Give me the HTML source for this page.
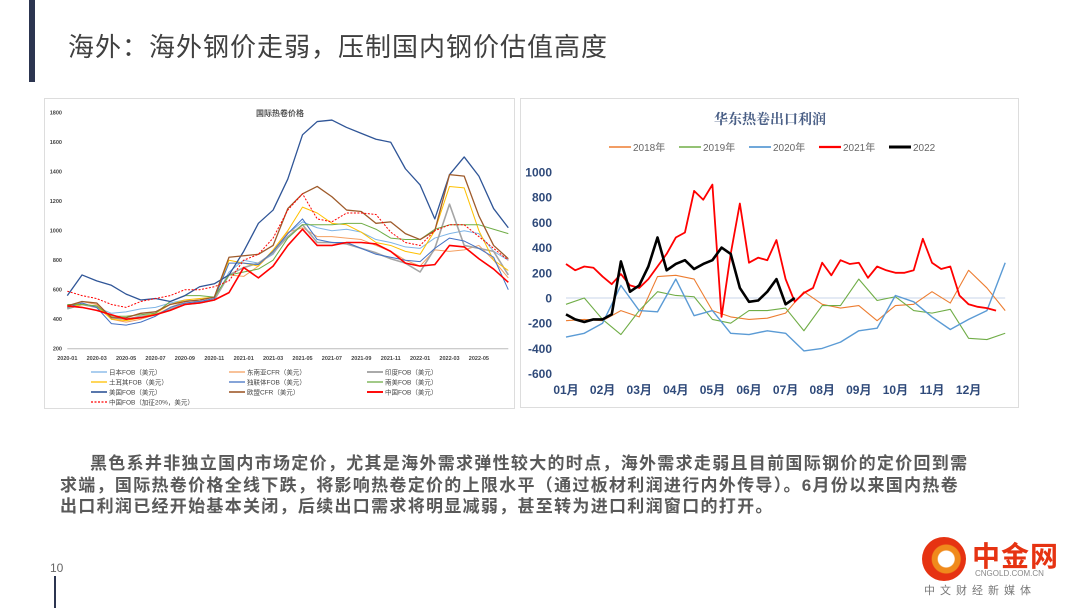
<!DOCTYPE html>
<html><head><meta charset="utf-8"><style>
body{margin:0;width:1080px;height:608px;background:#fff;position:relative;overflow:hidden;font-family:"Liberation Sans","Noto Sans CJK SC",sans-serif}
.abs{position:absolute}
</style></head><body>
<div class="abs" style="left:29px;top:0;width:6px;height:82px;background:#2c3550"></div>
<div class="abs" style="left:68px;top:27px;font-size:26px;letter-spacing:1px;color:#404040;white-space:nowrap">海外：海外钢价走弱，压制国内钢价估值高度</div>
<div class="abs" style="left:44px;top:98px;width:469px;height:309px;border:1px solid #ddd"></div>
<div class="abs" style="left:520px;top:98px;width:497px;height:308px;border:1px solid #ddd"></div>
<svg id="chart" class="abs" style="left:0;top:0" width="1080" height="608"></svg>
<div class="abs" style="left:60px;top:453px;width:960px;font-size:17px;letter-spacing:1.3px;font-weight:bold;color:#595959;line-height:21.5px">
<div style="text-indent:30px;white-space:nowrap">黑色系并非独立国内市场定价，尤其是海外需求弹性较大的时点，海外需求走弱且目前国际钢价的定价回到需</div>
<div style="white-space:nowrap">求端，国际热卷价格全线下跌，将影响热卷定价的上限水平（通过板材利润进行内外传导）。6月份以来国内热卷</div>
<div style="white-space:nowrap">出口利润已经开始基本关闭，后续出口需求将明显减弱，甚至转为进口利润窗口的打开。</div>
</div>
<div class="abs" style="left:50px;top:561px;font-size:12px;color:#666">10</div>
<div class="abs" style="left:54px;top:576px;width:2px;height:32px;background:#2c3550"></div>
<div class="abs" style="left:922px;top:537px;width:44px;height:44px;border-radius:50%;background:radial-gradient(circle at 55% 50%,#fff 0 8px,#f08a1c 9px 14px,#e63312 15px)"></div>
<div class="abs" style="left:972px;top:535px;font-size:28px;font-weight:bold;color:#e63312;letter-spacing:1px">中金网</div>
<div class="abs" style="left:975px;top:569px;font-size:8px;color:#888">CNGOLD.COM.CN</div>
<div class="abs" style="left:924px;top:582px;font-size:11px;color:#777;letter-spacing:5px">中文财经新媒体</div>
<script>
// ---------- left chart data (monthly 2020-01 .. 2022-07) ----------
const lMonths=["2020-01","2020-03","2020-05","2020-07","2020-09","2020-11","2021-01","2021-03","2021-05","2021-07","2021-09","2021-11","2022-01","2022-03","2022-05"];
const lYTicks=[200,400,600,800,1000,1200,1400,1600,1800];
const jp=[470,500,480,440,450,470,480,510,530,520,530,720,800,780,840,980,1060,1020,1000,1010,990,940,920,890,880,950,980,1000,980,860,800];
const sea=[480,520,500,400,380,400,430,480,520,530,550,700,690,760,860,990,1020,960,960,950,940,900,860,800,760,870,860,870,900,800,680];
const ind=[470,500,480,410,400,420,430,470,500,510,530,700,750,780,850,960,1040,920,920,910,880,850,810,780,720,880,1180,900,880,860,700];
const tur=[480,500,490,400,390,410,440,500,530,540,550,800,780,760,870,1000,1160,1120,1050,1040,990,920,900,860,840,1000,1300,1290,1000,800,730];
const cis=[480,510,480,370,360,380,420,480,510,520,540,780,780,770,860,980,1080,940,920,920,880,840,820,800,790,880,950,930,880,820,600];
const sam=[500,500,490,420,420,430,440,520,560,560,550,700,720,740,800,950,1040,1040,1040,1050,1050,1010,950,940,940,1010,1040,1040,1040,1010,980];
const usa=[560,700,660,630,570,530,540,520,560,620,640,700,860,1050,1140,1350,1650,1740,1750,1700,1660,1620,1600,1420,1310,1080,1380,1500,1370,1150,1020];
const eu=[490,520,510,410,410,440,450,500,520,530,550,820,830,840,900,1150,1250,1300,1230,1140,1130,1050,1060,980,940,1000,1380,1370,1100,900,810];
const chn=[490,480,460,430,400,410,430,460,500,510,530,580,750,680,760,900,1010,900,900,920,920,910,860,780,760,770,900,890,810,740,650];
const chn20=[590,560,540,500,480,520,540,560,600,600,620,660,800,840,950,1140,1250,1080,1060,1120,1120,1110,990,920,900,1000,1040,1040,960,880,800];
const lSeries=[
 {n:"日本FOB（美元）",d:jp,c:"#7eb4e6",w:1},
 {n:"东南亚CFR（美元）",d:sea,c:"#f4a062",w:1},
 {n:"印度FOB（美元）",d:ind,c:"#a5a5a5",w:1.6},
 {n:"土耳其FOB（美元）",d:tur,c:"#ffc000",w:1},
 {n:"独联体FOB（美元）",d:cis,c:"#4472c4",w:1},
 {n:"南美FOB（美元）",d:sam,c:"#70ad47",w:1},
 {n:"美国FOB（美元）",d:usa,c:"#2f5597",w:1.3},
 {n:"欧盟CFR（美元）",d:eu,c:"#9e5a2a",w:1.3},
 {n:"中国FOB（美元）",d:chn,c:"#ff0000",w:1.6},
 {n:"中国FOB（加征20%，美元）",d:chn20,c:"#ff0000",w:1,dash:"2,1.5"}];
// ---------- right chart data ----------
const rMonths=["01月","02月","03月","04月","05月","06月","07月","08月","09月","10月","11月","12月"];
const rYTicks=[-600,-400,-200,0,200,400,600,800,1000];
const y2018=[-180,-170,-180,-100,-150,170,180,150,-100,-150,-170,-160,-120,50,-50,-80,-60,-180,-60,-50,50,-40,220,80,-100];
const y2019=[-50,0,-170,-290,-100,50,20,10,-170,-200,-100,-100,-80,-260,-60,-60,150,-20,10,-100,-120,-90,-320,-330,-280];
const y2020=[-310,-280,-200,100,-100,-110,150,-140,-100,-280,-290,-260,-280,-420,-400,-350,-260,-240,20,-30,-150,-250,-170,-100,280];
const y2021=[270,220,250,240,170,110,190,100,80,150,250,350,480,520,850,780,900,-150,350,750,280,320,300,460,150,-30,40,80,280,180,300,270,280,160,250,220,200,200,220,470,280,230,250,20,-50,-70,-80,-100];
const y2022=[-130,-170,-190,-170,-170,-130,290,50,100,250,480,220,270,300,230,270,300,400,350,80,-30,-20,50,150,-50,0];
const rSeries=[
 {n:"2018年",d:y2018,step:0.5,c:"#ed7d31",w:1.1},
 {n:"2019年",d:y2019,step:0.5,c:"#70ad47",w:1.1},
 {n:"2020年",d:y2020,step:0.5,c:"#5b9bd5",w:1.4},
 {n:"2021年",d:y2021,step:0.25,c:"#ff0000",w:1.8},
 {n:"2022",d:y2022,step:0.25,c:"#000000",w:2.6}];

const svg=document.getElementById('chart');
const NS="http://www.w3.org/2000/svg";
function mk(tag,attrs,txt){const e=document.createElementNS(NS,tag);for(const k in attrs)e.setAttribute(k,attrs[k]);if(txt!==undefined)e.textContent=txt;svg.appendChild(e);return e;}
// left axes
const lx=i=>67.3+i*14.7, ly=v=>348.7-(v-200)*29.5/200;
let t=mk('text',{x:280,y:116,'font-size':8,'font-weight':'bold','text-anchor':'middle',fill:'#555'},"国际热卷价格");


lYTicks.forEach(v=>{const e=mk('text',{x:62,y:ly(v)+2,'font-size':5.5,'text-anchor':'end',fill:'#444','font-weight':'bold'},v);

});
let ax=mk('line',{x1:lx(0),x2:lx(30),y1:ly(200),y2:ly(200),stroke:'#bbb','stroke-width':1});


lMonths.forEach((m,k)=>{const e=mk('text',{x:lx(k*2),y:360,'font-size':5.5,'text-anchor':'middle',fill:'#444','font-weight':'bold'},m);

});
lSeries.forEach((s,k)=>{
 const p=mk('polyline',{points:s.d.map((v,i)=>lx(i)+','+ly(v)).join(' '),fill:'none',stroke:s.c,'stroke-width':s.w,'stroke-dasharray':s.dash||'none','stroke-linejoin':'round'});
 
 
 const col=k%3,row=Math.floor(k/3),x=91+col*138,y=372+row*10;
 const l=mk('line',{x1:x,x2:x+16,y1:y,y2:y,stroke:s.c,'stroke-width':s.w+0.3,'stroke-dasharray':s.dash||'none'});
 
 
 const tt=mk('text',{x:x+18,y:y+2.5,'font-size':6.5,fill:'#444'},s.n);
 
 
});
// right axes
const rx=m=>566+m*36.6, ry=v=>298-v*25.2/200;
t=mk('text',{x:770,y:124,'font-size':14,'font-weight':'bold','text-anchor':'middle',fill:'#4a5f86','font-family':'"Noto Serif CJK SC",serif'},"华东热卷出口利润");


let zl=mk('line',{x1:rx(0),x2:rx(12),y1:ry(0),y2:ry(0),stroke:'#c9d6e8','stroke-width':1});


rYTicks.forEach(v=>{const e=mk('text',{x:552,y:ry(v)+4.5,'font-size':12,'font-weight':'bold','text-anchor':'end',fill:'#2f4a7a'},v);

});
rMonths.forEach((m,i)=>{const e=mk('text',{x:rx(i),y:394,'font-size':12,'font-weight':'bold','text-anchor':'middle',fill:'#2f4a7a'},m);

});
const legX=[609,679,749,819,889];
rSeries.forEach((s,k)=>{
 const p=mk('polyline',{points:s.d.map((v,i)=>rx(i*s.step)+','+ry(v)).join(' '),fill:'none',stroke:s.c,'stroke-width':s.w,'stroke-linejoin':'round'});
 
 
 const x=legX[k];
 const l=mk('line',{x1:x,x2:x+22,y1:147,y2:147,stroke:s.c,'stroke-width':s.w+0.4});
 
 
 const tt=mk('text',{x:x+24,y:151,'font-size':10,fill:'#666'},s.n);
 
 
});
</script>
</body></html>
